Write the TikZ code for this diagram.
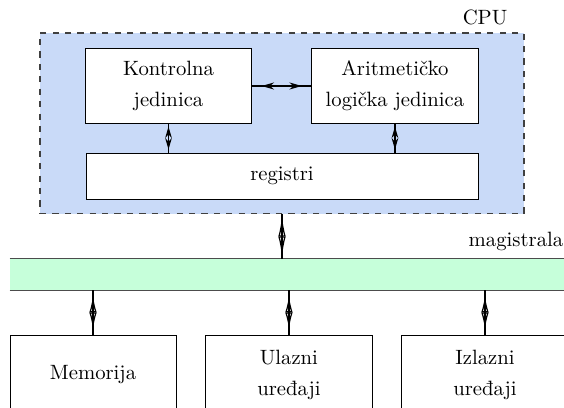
\documentclass[tikz,border=0pt]{standalone}
\usepackage{tikz}
\usetikzlibrary{arrows.meta}
\usetikzlibrary{decorations.markings}
\definecolor{cpuplava}{RGB}{201, 218, 248}
\definecolor{magzelena}{RGB}{198, 255, 218}

\begin{document}
\begin{tikzpicture}[
        blok/.style={draw, fill=white, align=center, minimum width=2.83cm, minimum height=1.26cm},
        uredjaj/.style={draw, fill=white, align=center, minimum width=2.82cm, minimum height=1.36cm},
        dvosmjerna/.style 2 args={decoration={markings,
            mark=at position 0.5 with {\pgftransformxshift{#1}\arrow{#2}},
            mark=at position 0.5 with {\pgftransformxshift{-#1}\arrowreversed{#2}}},
            postaction={decorate}}
    ]
        \useasboundingbox (0,0) rectangle (9.576,6.927);
        \clip (0,0) rectangle (9.576,6.927);
        \node[draw=black!75, dashed, line width=0.6pt, fill=cpuplava, minimum width=8.22cm, minimum height=3.07cm] (cpu) at (4.788,4.831) {};
        \node[above left, xshift=-0.17cm] (cpuoznaka) at (cpu.north east) {CPU};
        \node[blok] (kontrolna) at (2.861,5.467) {Kontrolna\\[3pt] jedinica};
        \node[blok] (alu) at (6.706,5.467) {Aritmetičko\\[3pt] logička jedinica};
        \node[draw, fill=white, minimum width=6.655cm, minimum height=0.781cm] (registri) at (4.788,3.939) {registri};
        \node[fill=magzelena, minimum width=9.68cm, minimum height=0.527cm, inner sep=0pt] (magistrala) at (5.01,2.267) {};
        \draw[black!70, semithick] (magistrala.north west) -- (magistrala.north east);
        \draw[black!70, semithick] (magistrala.south west) -- (magistrala.south east);
        \node[above left, xshift=-0.17cm] (magoznaka) at (magistrala.north east) {magistrala};
        \node[uredjaj] (memorija) at (1.579,0.560) {Memorija};
        \node[uredjaj] (ulazni) at (4.906,0.560) {Ulazni\\[3pt] uređaji};
        \node[uredjaj] (izlazni) at (8.234,0.560) {Izlazni\\[3pt] uređaji};
        \draw[semithick, dvosmjerna={9.7pt}{Stealth[length=6pt, width=3.4pt]}] (kontrolna) -- (alu);
        \draw[semithick, dvosmjerna={5.5pt}{Stealth[length=5.5pt, width=3.2pt]}] (kontrolna.south) -- (kontrolna.south |- registri.north);
        \draw[semithick, dvosmjerna={5.5pt}{Stealth[length=5.5pt, width=3.2pt]}] (alu.south) -- (alu.south |- registri.north);
        \draw[semithick, dvosmjerna={9.5pt}{Latex[open, length=9.5pt, width=3.6pt]}] (cpu.south) -- (cpu.south |- magistrala.north);
        \draw[semithick, dvosmjerna={8pt}{Latex[open, length=8pt, width=3.6pt]}] (memorija.north) -- (memorija.north |- magistrala.south);
        \draw[semithick, dvosmjerna={8pt}{Latex[open, length=8pt, width=3.6pt]}] (ulazni.north) -- (ulazni.north |- magistrala.south);
        \draw[semithick, dvosmjerna={8pt}{Latex[open, length=8pt, width=3.6pt]}] (izlazni.north) -- (izlazni.north |- magistrala.south);
    \end{tikzpicture}
\end{document}
